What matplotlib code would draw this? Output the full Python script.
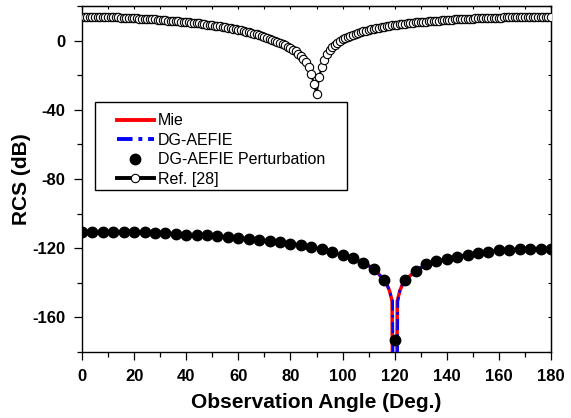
import numpy as np
import matplotlib
matplotlib.use("Agg")
import matplotlib.pyplot as plt
from matplotlib.ticker import MultipleLocator
from matplotlib.patches import Rectangle

plt.rcParams['font.family'] = ['Liberation Sans', 'DejaVu Sans']
plt.rcParams['axes.unicode_minus'] = False

# Ref. [28] : one value per degree, 0..180
ref_angle = np.arange(0, 181)
ref_rcs = [
    13.9, 13.9, 13.9, 13.9, 13.8, 13.8, 13.8, 13.7, 13.7, 13.7,
    13.6, 13.6, 13.5, 13.4, 13.4, 13.3, 13.2, 13.2, 13.1, 13.0,
    12.9, 12.8, 12.7, 12.6, 12.6, 12.5, 12.4, 12.3, 12.2, 12.1,
    12.0, 11.9, 11.7, 11.6, 11.5, 11.4, 11.2, 11.1, 11.0, 10.8,
    10.7, 10.5, 10.4, 10.2, 10.1, 9.9, 9.7, 9.5, 9.3, 9.1,
    8.9, 8.7, 8.4, 8.2, 8.0, 7.7, 7.4, 7.1, 6.8, 6.5,
    6.2, 5.9, 5.5, 5.2, 4.8, 4.4, 4.0, 3.6, 3.1, 2.7,
    2.2, 1.7, 1.1, 0.6, 0.0, -0.6, -1.3, -2.0, -2.7, -3.5,
    -4.4, -5.3, -6.3, -7.5, -8.8, -10.4, -12.5, -15.5, -19.5, -25.0,
    -31.0, -21.0, -15.5, -11.0, -7.8, -5.5, -3.8, -2.4, -1.2, -0.2,
    0.7, 1.5, 2.2, 2.8, 3.4, 4.0, 4.5, 5.0, 5.4, 5.8,
    6.2, 6.6, 6.9, 7.2, 7.5, 7.8, 8.1, 8.3, 8.6, 8.8,
    9.0, 9.2, 9.4, 9.6, 9.8, 10.0, 10.2, 10.3, 10.5, 10.6,
    10.8, 10.9, 11.0, 11.2, 11.3, 11.4, 11.5, 11.6, 11.7, 11.8,
    11.9, 12.0, 12.1, 12.2, 12.3, 12.3, 12.4, 12.5, 12.6, 12.6,
    12.7, 12.8, 12.8, 12.9, 13.0, 13.0, 13.1, 13.1, 13.2, 13.2,
    13.3, 13.3, 13.4, 13.4, 13.5, 13.5, 13.5, 13.6, 13.6, 13.6,
    13.7, 13.7, 13.7, 13.8, 13.8, 13.8, 13.8, 13.9, 13.9, 13.9,
    13.9,
]

# DG-AEFIE Perturbation : every 4 degrees
pert_angle = np.arange(0, 181, 4)
pert_rcs = [
    -110.9, -110.7, -110.5, -110.5, -110.5, -110.7, -110.9, -111.1,
    -111.4, -111.7, -112.1, -112.4, -112.6, -113.2, -113.6, -114.0,
    -114.5, -115.1, -115.9, -116.7, -117.6, -118.4, -119.5, -120.7,
    -122.3, -124.0, -125.9, -128.4, -131.9, -138.4, -173.3, -138.4,
    -133.2, -129.4, -127.5, -126.0, -124.8, -123.8, -122.9, -122.1,
    -121.3, -120.9, -120.7, -120.3, -120.3, -120.3,
]

# Mie : continuous curve, extra samples around the null at 120 deg
mie_angle = [0, 4, 8, 12, 16, 20, 24, 28, 32, 36, 40, 44, 48, 52, 56, 60,
             64, 68, 72, 76, 80, 84, 88, 92, 96, 100, 104, 108, 112, 116,
             117, 118, 119, 120, 121, 122, 123, 124, 128, 132, 136, 140,
             144, 148, 152, 156, 160, 164, 168, 172, 176, 180]
mie_rcs = [-110.9, -110.7, -110.5, -110.5, -110.5, -110.7, -110.9, -111.1,
           -111.4, -111.7, -112.1, -112.4, -112.6, -113.2, -113.6, -114.0,
           -114.5, -115.1, -115.9, -116.7, -117.6, -118.4, -119.5, -120.7,
           -122.3, -124.0, -125.9, -128.4, -131.9, -138.4,
           -140.9, -144.5, -150.5, -400.0, -150.5, -144.5, -140.9, -138.4,
           -133.2, -129.4, -127.5, -126.0, -124.8, -123.8, -122.9, -122.1,
           -121.3, -120.9, -120.7, -120.3, -120.3, -120.3]

# DG-AEFIE : same shape, null slightly shifted
dg_angle = [0, 4, 8, 12, 16, 20, 24, 28, 32, 36, 40, 44, 48, 52, 56, 60,
            64, 68, 72, 76, 80, 84, 88, 92, 96, 100, 104, 108, 112, 116,
            117, 118, 119.2, 120.4, 121.2, 122, 123, 124, 128, 132, 136, 140,
            144, 148, 152, 156, 160, 164, 168, 172, 176, 180]
dg_rcs = [-110.9, -110.7, -110.5, -110.5, -110.5, -110.7, -110.9, -111.1,
          -111.4, -111.7, -112.1, -112.4, -112.6, -113.2, -113.6, -114.0,
          -114.5, -115.1, -115.9, -116.7, -117.6, -118.4, -119.5, -120.7,
          -122.3, -124.0, -125.9, -128.4, -131.9, -138.4,
          -140.9, -144.5, -150.5, -400.0, -150.5, -144.5, -140.9, -138.4,
          -133.2, -129.4, -127.5, -126.0, -124.8, -123.8, -122.9, -122.1,
          -121.3, -120.9, -120.7, -120.3, -120.3, -120.3]

#---------------------------------------------
fig = plt.figure(figsize=(5.71, 4.18), dpi=100)
ax = fig.add_axes([82/571, 66/418, 469/571, 346/418])

ax.plot(mie_angle, mie_rcs, '-', color='#ff0000', lw=2.5, label='Mie', zorder=2)
ax.plot(dg_angle, dg_rcs, color='#0000ff', lw=2.0,
        linestyle=(0, (4, 1.5, 1, 1.5)), label='DG-AEFIE', zorder=3)
ax.plot(pert_angle, pert_rcs, 'o', color='black', ms=7.5,
        label='DG-AEFIE Perturbation', zorder=4)
ax.plot(ref_angle, ref_rcs, '-o', color='black', lw=1.5, ms=6,
        mfc='white', mec='black', mew=0.8, label='Ref. [28]', zorder=5)

ax.set_xlim(0, 180)
ax.set_ylim(-180, 20)

ax.xaxis.set_major_locator(MultipleLocator(20))
ax.xaxis.set_minor_locator(MultipleLocator(10))
ax.yaxis.set_minor_locator(MultipleLocator(20))
ax.set_yticks([0, -40, -80, -120, -160])

ax.tick_params(which='major', direction='out', length=5.5, width=0.9,
               labelsize=12)
ax.tick_params(axis='x', which='major', pad=7)
ax.tick_params(axis='y', which='major', pad=6.5)
ax.tick_params(which='minor', direction='out', length=3.5, width=0.9)
for lab in ax.get_xticklabels() + ax.get_yticklabels():
    lab.set_fontweight('bold')

# mirrored inward ticks on top and right
top = ax.secondary_xaxis('top')
top.xaxis.set_major_locator(MultipleLocator(20))
top.xaxis.set_minor_locator(MultipleLocator(10))
top.tick_params(which='both', direction='in', length=2.5, width=0.8,
                labeltop=False)
right = ax.secondary_yaxis('right')
right.yaxis.set_minor_locator(MultipleLocator(20))
right.set_yticks([0, -40, -80, -120, -160])
right.tick_params(which='both', direction='in', length=2.5, width=0.8,
                  labelright=False)

for sp in ax.spines.values():
    sp.set_linewidth(1.0)

ax.set_xlabel('Observation Angle (Deg.)', fontsize=15, fontweight='bold',
              labelpad=6)
ax.set_ylabel('RCS (dB)', fontsize=15, fontweight='bold', labelpad=1)

# legend box drawn by hand (wide side margins as in the original)
ax.add_patch(Rectangle((0.0277, 0.468), 0.5373, 0.2545, transform=ax.transAxes,
                       facecolor='white', edgecolor='black', lw=1.0, zorder=6))
leg = ax.legend(loc='upper left', bbox_to_anchor=(0.0746, 0.690),
                borderaxespad=0, borderpad=0, frameon=False, fontsize=11.5,
                handlelength=2.3, handletextpad=0.25, labelspacing=0.28)
leg.set_zorder(7)
for h in leg.get_lines():
    h.set_linewidth(2.8)

fig.savefig('out.png', dpi=100)
